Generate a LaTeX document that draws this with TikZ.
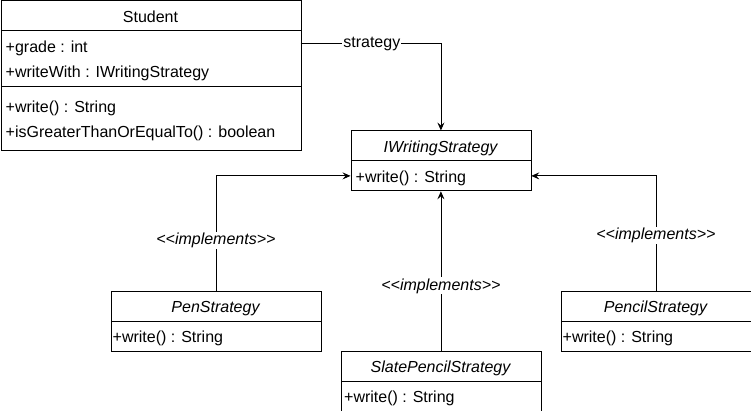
\documentclass[tikz,border=0pt]{standalone}
\usepackage{fontspec}
\setmainfont{Liberation Sans}
\usetikzlibrary{arrows.meta}
\begin{document}
\begin{tikzpicture}[x=1pt,y=-1pt,
  every node/.style={font=\fontsize{16}{19}\selectfont},
  part/.style={draw=black,line width=0.8pt,anchor=north west,inner sep=0pt,minimum height=#1},
  txt/.style={anchor=base west,inner sep=0pt},
  ttl/.style={anchor=base,inner sep=0pt},
  conn/.style={line width=0.8pt,-{Stealth[length=8pt,width=7pt,inset=3pt]}},
  lbl/.style={fill=white,inner sep=1pt},
  ilbl/.style={fill=white,inner sep=1pt,font=\fontsize{16}{19}\selectfont\itshape}]
\useasboundingbox (0,0) rectangle (751,411);
% Student
\node[part=30pt,minimum width=300pt] (sh) at (0.5,0.5) {};
\node[part=56pt,minimum width=300pt] (sa) at (0.5,30.5) {};
\node[part=64pt,minimum width=300pt] (sm) at (0.5,86.5) {};
\node[ttl] (st) at (150.5,22.3) {Student};
\node[txt] (s1) at (5.5,52.3) {+grade : int};
\node[txt] (s2) at (5.5,77.5) {+writeWith : IWritingStrategy};
\node[txt] (s3) at (5.5,112.5) {+write() : String};
\node[txt] (s4) at (5.5,137.7) {+isGreaterThanOrEqualTo() : boolean};
% IWritingStrategy
\node[part=30pt,minimum width=180pt] (ih) at (350.5,130.5) {};
\node[part=30pt,minimum width=180pt] (ib) at (350.5,160.5) {};
\node[ttl] (it) at (440.5,153) {\itshape IWritingStrategy};
\node[txt] (iw) at (355.5,183) {+write() : String};
% PenStrategy
\node[part=30pt,minimum width=210pt] (ph) at (110.5,290.5) {};
\node[part=30pt,minimum width=210pt] (pb) at (110.5,320.5) {};
\node[ttl] (pt) at (215.5,312) {\itshape PenStrategy};
\node[txt] (pw) at (112.5,342) {+write() : String};
% SlatePencilStrategy
\node[part=30pt,minimum width=200pt] (slh) at (340.5,350.5) {};
\node[part=30pt,minimum width=200pt] (slb) at (340.5,380.5) {};
\node[ttl] (slt) at (440.5,372) {\itshape SlatePencilStrategy};
\node[txt] (slw) at (344,402) {+write() : String};
% PencilStrategy
\node[part=30pt,minimum width=190pt] (pch) at (560.5,290.5) {};
\node[part=30pt,minimum width=190pt] (pcb) at (560.5,320.5) {};
\node[ttl] (pct) at (655.5,312) {\itshape PencilStrategy};
\node[txt] (pcw) at (562.5,342) {+write() : String};
% connectors
\coordinate (sout) at (300.5,43.5);
\draw[conn] (sout) -| node[lbl,pos=0.254] {strategy} (ih.north);
\draw[conn] (ph.north) |- node[ilbl,pos=0.217] {{<}{<}implements{>}{>}} (ib.west);
\draw[conn] (slh.north) -- node[ilbl,pos=0.406] {{<}{<}implements{>}{>}} (ib.south);
\draw[conn] (pch.north) |- node[ilbl,pos=0.239] {{<}{<}implements{>}{>}} (ib.east);
\end{tikzpicture}
\end{document}
